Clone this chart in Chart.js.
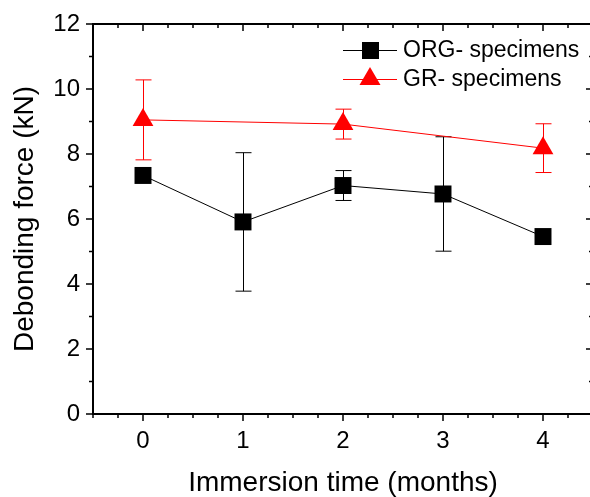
<!DOCTYPE html>
<html>
<head>
<meta charset="utf-8">
<script src="https://cdn.jsdelivr.net/npm/chart.js@4.4.0/dist/chart.umd.min.js"></script>
<style>
  body { margin: 0; overflow: hidden; background: #fff; }
  canvas { display: block; }
</style>
</head>
<body>
<canvas id="chart-1" width="593" height="497"></canvas>
<script>
// immersion time in months
const orgMonths = [0, 1, 2, 3, 4];
const orgForce = [7.34, 5.91, 7.03, 6.77, 5.46];
const orgErr = [0, 2.13, 0.46, 1.76, 0];

const grMonths = [0, 2, 4];
const grForce = [9.05, 8.92, 8.18];
const grErr = [1.23, 0.46, 0.75];

const seriesNames = ['ORG- specimens', 'GR- specimens'];

const orgPoints = orgMonths.map((m, i) => ({ x: m, y: orgForce[i], e: orgErr[i] }));
const grPoints = grMonths.map((m, i) => ({ x: m, y: grForce[i], e: grErr[i] }));

const font = 'Liberation Sans, Arial, sans-serif';

// draws error bars under markers
const errorBars = {
  id: 'errorBars',
  beforeDatasetsDraw(chart) {
    const c = chart.ctx;
    const xs = chart.scales.x, ys = chart.scales.y;
    chart.data.datasets.forEach(ds => {
      c.save();
      c.strokeStyle = ds.borderColor;
      c.lineWidth = 1;
      ds.data.forEach(p => {
        if (!p.e) return;
        const px = Math.round(xs.getPixelForValue(p.x)) + 0.5;
        const top = ys.getPixelForValue(p.y + p.e);
        const bot = ys.getPixelForValue(p.y - p.e);
        c.beginPath();
        c.moveTo(px, top); c.lineTo(px, bot);
        c.moveTo(px - 8, top); c.lineTo(px + 8, top);
        c.moveTo(px - 8, bot); c.lineTo(px + 8, bot);
        c.stroke();
      });
      c.restore();
    });
  }
};

// frame with ticks: outward on left/bottom, inward on top/right
const frame = {
  id: 'frame',
  afterDraw(chart) {
    const c = chart.ctx;
    const a = chart.chartArea;
    const xs = chart.scales.x, ys = chart.scales.y;
    c.save();
    c.strokeStyle = '#000';
    c.lineWidth = 2;
    c.strokeRect(a.left, a.top, a.right - a.left, a.bottom - a.top);
    c.lineWidth = 1.5;
    c.beginPath();
    for (let v = -0.5; v <= 4.5001; v += 0.25) {
      const px = xs.getPixelForValue(v);
      const len = Math.abs(v - Math.round(v)) < 1e-6 ? 7 : 4;
      c.moveTo(px, a.bottom); c.lineTo(px, a.bottom + len);
      c.moveTo(px, a.top); c.lineTo(px, a.top + len);
    }
    for (let v = 0; v <= 12; v += 1) {
      const py = ys.getPixelForValue(v);
      const len = v % 2 === 0 ? 7 : 4;
      c.moveTo(a.left, py); c.lineTo(a.left - len, py);
      c.moveTo(a.right, py); c.lineTo(a.right - len, py);
    }
    c.stroke();
    c.restore();
  }
};

// legend in the top right corner of the plot
const legendBox = {
  id: 'legendBox',
  afterDraw(chart) {
    const c = chart.ctx;
    const rows = [
      { name: seriesNames[0], color: '#000', shape: 'rect', y: 50 },
      { name: seriesNames[1], color: '#ff0000', shape: 'tri', y: 79 }
    ];
    c.save();
    rows.forEach(r => {
      c.strokeStyle = r.color;
      c.fillStyle = r.color;
      c.lineWidth = 1;
      c.beginPath();
      c.moveTo(343, r.y + 0.5); c.lineTo(397, r.y + 0.5);
      c.stroke();
      c.beginPath();
      if (r.shape === 'rect') {
        c.rect(362, r.y - 8, 17, 17);
      } else {
        c.moveTo(370, r.y - 12);
        c.lineTo(380.5, r.y + 6);
        c.lineTo(359.5, r.y + 6);
        c.closePath();
      }
      c.fill();
      c.fillStyle = '#000';
      c.font = '23px ' + font;
      c.textBaseline = 'middle';
      c.textAlign = 'left';
      c.fillText(r.name, 403, r.y + 1);
    });
    c.restore();
  }
};

const ctx1 = document.getElementById('chart-1').getContext('2d');

const myChart = new Chart(ctx1, {
  type: 'scatter',
  data: {
    datasets: [{
      label: seriesNames[0],
      data: orgPoints,
      showLine: true,
      borderColor: '#000',
      backgroundColor: '#000',
      borderWidth: 1,
      pointStyle: 'rect',
      pointRadius: 12,
      pointHoverRadius: 12,
      pointBorderWidth: 0
    }, {
      label: seriesNames[1],
      data: grPoints,
      showLine: true,
      borderColor: '#ff0000',
      backgroundColor: '#ff0000',
      borderWidth: 1,
      pointStyle: 'triangle',
      pointRadius: 12,
      pointHoverRadius: 12,
      pointBorderWidth: 0
    }]
  },
  options: {
    responsive: false,
    animation: false,
    layout: { autoPadding: false, padding: { top: 24, right: 0, left: 0, bottom: 0 } },
    plugins: {
      legend: { display: false },
      tooltip: { enabled: false }
    },
    scales: {
      x: {
        type: 'linear',
        min: -0.5,
        max: 4.5,
        grid: { display: false, drawTicks: false },
        border: { display: false },
        ticks: {
          stepSize: 0.25,
          autoSkip: false,
          maxRotation: 0,
          padding: 13,
          color: '#000',
          font: { family: font, size: 24 },
          callback: v => Number.isInteger(v) && v >= 0 ? String(v) : ''
        },
        title: {
          display: true,
          text: 'Immersion time (months)',
          color: '#000',
          font: { family: font, size: 28, lineHeight: 1 },
          padding: { top: 0, bottom: 0 }
        },
        afterFit: s => { s.height = 83; s.paddingLeft = 0; s.paddingRight = 0; }
      },
      y: {
        min: 0,
        max: 12,
        grid: { display: false, drawTicks: false },
        border: { display: false },
        ticks: {
          stepSize: 1,
          autoSkip: false,
          padding: 13,
          color: '#000',
          font: { family: font, size: 24 },
          callback: v => v % 2 === 0 ? String(v) : ''
        },
        title: {
          display: true,
          text: 'Debonding force (kN)',
          color: '#000',
          font: { family: font, size: 28, lineHeight: 1 },
          padding: { top: 11, bottom: 0 }
        },
        afterFit: s => { s.width = 93; s.paddingTop = 0; s.paddingBottom = 0; }
      }
    }
  },
  plugins: [errorBars, frame, legendBox]
});
</script>
</body>
</html>
